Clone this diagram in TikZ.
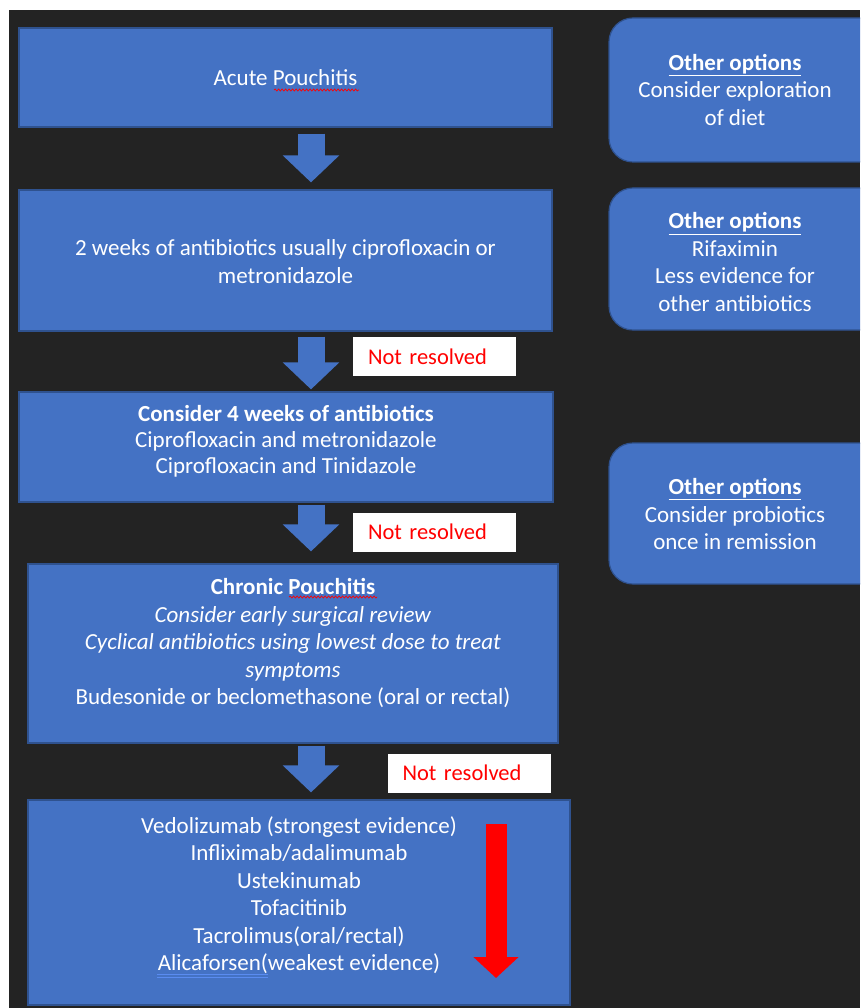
\documentclass[tikz,border=0pt]{standalone}
\usepackage{fontspec}
\setmainfont{Carlito}
\usepackage{xcolor}
\usetikzlibrary{arrows.meta,decorations.pathmorphing}

\definecolor{bgdark}{HTML}{232323}
\definecolor{boxblue}{HTML}{4472C4}
\definecolor{edgeblue}{HTML}{2F528F}
\definecolor{alertred}{HTML}{FF0000}
\definecolor{spellblue}{HTML}{5A8CF0}

\begin{document}
\begin{tikzpicture}[x=1pt,y=-1pt,
  box/.style={draw=edgeblue,fill=boxblue,line width=1.2pt,rectangle},
  optbox/.style={box,rounded corners=24pt},
  txt/.style={text=white,align=center,inner sep=0pt,font=\fontsize{23}{27.5}\selectfont},
  nrbox/.style={fill=white,text=alertred,text width=133pt,align=left,inner xsep=15pt,
    minimum height=39pt,font=\fontsize{22.5}{25}\selectfont},
  blockarrow/.style={draw=boxblue,line width=27pt,-{Triangle[width=55pt,length=27pt]}},
  redarrow/.style={draw=alertred,line width=21pt,-{Triangle[width=44pt,length=21pt]}},
  spellmark/.style={draw=alertred,line width=0.7pt,decorate,
    decoration={snake,segment length=3.5pt,amplitude=1pt}},
  grammarmark/.style={draw=spellblue,line width=0.9pt}]
\useasboundingbox (0,0) rectangle (860,1008);
\clip (0,0) rectangle (860,1008);
\fill[white] (0,0) rectangle (860,1008);
\fill[bgdark] (9,10) rectangle (860,1008);

% main column
\node[box,minimum width=533pt,minimum height=99pt] (b1) at (285.5,77.5) {};
\node[box,minimum width=533pt,minimum height=141pt] (b2) at (285.5,260.5) {};
\node[box,minimum width=534pt,minimum height=110pt] (b3) at (286,447) {};
\node[box,minimum width=530pt,minimum height=179pt] (b4) at (293,653.5) {};
\node[box,minimum width=542pt,minimum height=205pt] (b5) at (299,902.5) {};

\node[txt] (t1) at (b1) {Acute Pouchitis};
\node[txt,font=\fontsize{23}{28}\selectfont] (t2) at ([yshift=-1.5pt]b2.center)
  {2 weeks of antibiotics usually ciprofloxacin or\\metronidazole};
\node[txt,font=\fontsize{23}{26}\selectfont] (t3) at ([yshift=6pt]b3.center)
  {\textbf{Consider 4 weeks of antibiotics}\\Ciprofloxacin and metronidazole\\Ciprofloxacin and Tinidazole};
\node[txt] (t4) at ([yshift=10pt]b4.center)
  {\textbf{Chronic Pouchitis}\\\textit{Consider early surgical review}\\
   \textit{Cyclical antibiotics using lowest dose to treat}\\\textit{symptoms}\\
   Budesonide or beclomethasone (oral or rectal)};
\node[txt] (t5) at ([yshift=7.5pt]b5.center)
  {Vedolizumab (strongest evidence)\\Infliximab/adalimumab\\Ustekinumab\\Tofacitinib\\
   Tacrolimus(oral/rectal)\\Alicaforsen(weakest evidence)};

% spell-check marks
\draw[spellmark] (274,90) -- (359,90);
\draw[spellmark] (289,597) -- (377,597);
\draw[grammarmark] (157,974) -- (268,974);
\draw[grammarmark] (157,977) -- (268,977);

% arrows between steps
\coordinate (ax) at (311,0);
\draw[blockarrow,shorten <=6pt,shorten >=7pt] (b1.south -| ax) -- (b2.north -| ax);
\draw[blockarrow,shorten <=5pt,shorten >=2pt] (b2.south -| ax) -- (b3.north -| ax);
\draw[blockarrow,shorten <=2pt,shorten >=12pt] (b3.south -| ax) -- (b4.north -| ax);
\draw[blockarrow,shorten <=2pt,shorten >=7pt] (b4.south -| ax) -- (b5.north -| ax);

\node[nrbox] (nr1) at (434.5,356.5) {Not resolved};
\node[nrbox] (nr2) at (434.5,532) {Not resolved};
\node[nrbox] (nr3) at (469,773) {Not resolved};

% strongest to weakest
\coordinate (rtop) at (496,824);
\coordinate (rbot) at (496,978);
\draw[redarrow] (rtop) -- (rbot);

% other options
\node[optbox,minimum width=281pt,minimum height=144pt] (o1) at (749.5,90) {};
\node[optbox,minimum width=281pt,minimum height=142pt] (o2) at (749.5,259) {};
\node[optbox,minimum width=281pt,minimum height=141pt] (o3) at (749.5,513.5) {};
\node[txt] (ot1) at (735,90) {\textbf{\underline{Other options}}\\Consider exploration\\of diet};
\node[txt] (ot2) at (735,262) {\textbf{\underline{Other options}}\\Rifaximin\\Less evidence for\\other antibiotics};
\node[txt] (ot3) at (735,514) {\textbf{\underline{Other options}}\\Consider probiotics\\once in remission};
\end{tikzpicture}
\end{document}
